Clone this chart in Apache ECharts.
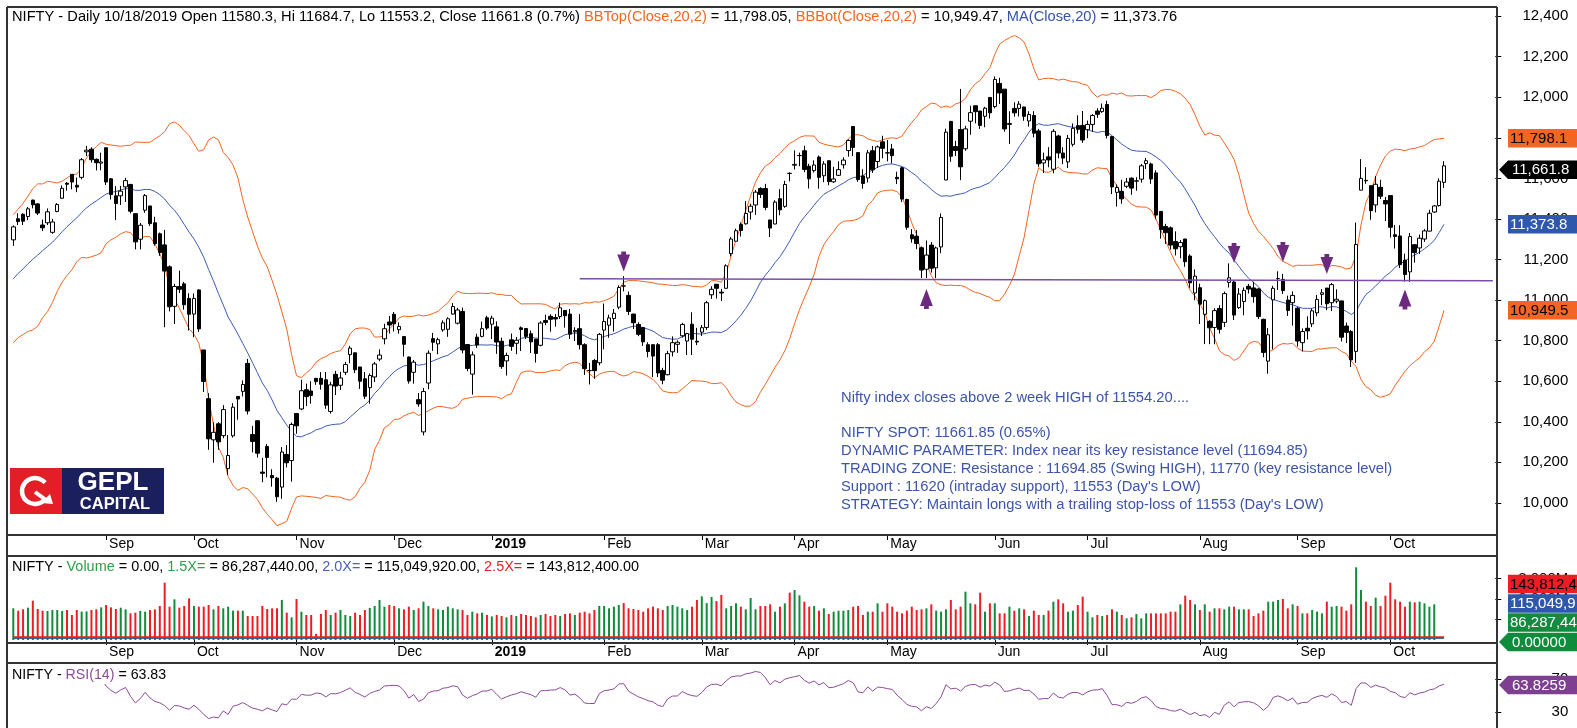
<!DOCTYPE html>
<html>
<head>
<meta charset="utf-8">
<script src="https://cdn.jsdelivr.net/npm/echarts@6/dist/echarts.min.js"></script>
<style>
html, body { margin: 0; padding: 0; background: #fff; }
#chart { width: 1577px; height: 728px; }
</style>
</head>
<body>
<div id="chart"></div>
<script>
// NSE holidays in the window, used to lay out the trading days
var holidays = ['2018-08-15','2018-08-22','2018-09-13','2018-09-20','2018-10-02','2018-10-18','2018-11-08','2018-11-23',
  '2018-12-25','2019-03-04','2019-03-21','2019-04-17','2019-04-19','2019-04-29','2019-05-01','2019-06-05',
  '2019-08-12','2019-08-15','2019-09-02','2019-09-10','2019-10-02','2019-10-08'];
var monthNames = ['Jan','Feb','Mar','Apr','May','Jun','Jul','Aug','Sep','Oct','Nov','Dec'];

// closes before the first bar, only used to start MA / bands / RSI
var warmupClose = [10657,10699,10769,10749,10772,10852,10947,10948,11023,11018,10936,11008,10980,10957,11010,
  11084,11134,11132,11167,11278,11319,11356,11346,11244];

// daily bars [open, high, low, close]
var aug18 = [[11297,11368,11267,11361],[11401,11428,11370,11387],[11423,11428,11370,11389],[11412,11459,11394,11450],
  [11493,11495,11452,11470],[11474,11478,11419,11429],[11370,11397,11340,11356],[11381,11452,11370,11435],
  [11334,11400,11327,11385],[11437,11478,11433,11471],[11502,11565,11499,11551],[11576,11582,11539,11571],
  [11620,11620,11546,11582],[11566,11604,11532,11557],[11605,11700,11595,11692],[11731,11760,11710,11739],
  [11744,11753,11678,11692],[11694,11698,11639,11677],[11675,11727,11640,11681]];
var sep18 = [[11751,11751,11567,11582],[11598,11602,11496,11520],[11514,11562,11394,11476],[11514,11563,11469,11537],
  [11558,11603,11484,11589],[11570,11573,11427,11438],[11426,11427,11250,11287],[11300,11380,11250,11369],
  [11443,11523,11430,11515],[11464,11464,11366,11377],[11381,11411,11268,11278],[11327,11333,11218,11234],
  [11272,11346,10866,11143],[11164,11171,10944,10967],[10969,11080,10882,11067],[11067,11145,11035,11053],
  [11080,11090,10953,10977],[11008,11034,10850,10930]];
var oct18 = [[10931,11033,10817,11008],[11050,11053,10843,10858],[10754,10755,10547,10599],[10514,10541,10262,10316],
  [10311,10398,10198,10348],[10390,10398,10262,10301],[10332,10482,10319,10460],[10169,10335,10138,10234],
  [10331,10492,10322,10472],[10525,10526,10410,10512],[10550,10604,10525,10584],[10688,10710,10436,10453],
  [10337,10380,10249,10303],[10405,10408,10224,10245],[10152,10222,10102,10146],[10278,10290,10126,10224],
  [10135,10166,10080,10124],[10122,10128,10005,10030],[10078,10275,10020,10251],[10239,10285,10175,10198],
  [10209,10396,10105,10387]];
var nov18 = [[10441,10441,10341,10380],[10463,10607,10457,10553],[10558,10588,10477,10524],[10552,10600,10489,10530],
  [10614,10616,10582,10598],[10614,10645,10558,10585],[10607,10645,10464,10482],[10451,10597,10440,10582],
  [10634,10651,10532,10576],[10580,10646,10557,10616],[10644,10695,10631,10682],[10731,10774,10688,10763],
  [10740,10740,10640,10656],[10670,10671,10562,10600],[10612,10646,10512,10526],[10568,10638,10489,10628],
  [10621,10695,10596,10685],[10709,10757,10699,10729],[10809,10883,10782,10859],[10892,10922,10835,10877]];
var dec18 = [[10930,10941,10845,10883],[10854,10890,10834,10870],[10820,10821,10722,10782],[10719,10722,10588,10601],
  [10644,10705,10588,10694],[10509,10542,10474,10488],[10350,10567,10333,10549],[10591,10752,10560,10738],
  [10810,10838,10749,10792],[10784,10815,10733,10805],[10853,10900,10844,10888],[10856,10915,10819,10908],
  [10931,10985,10928,10968],[10886,10962,10880,10951],[10944,10963,10738,10754],[10781,10782,10649,10663],
  [10635,10747,10534,10730],[10817,10834,10764,10779],[10821,10894,10816,10859],[10913,10923,10853,10862]];
var jan19 = [[10881,10923,10808,10911],[10868,10895,10735,10793],[10797,10815,10661,10672],[10700,10741,10628,10727],
  [10804,10835,10750,10772],[10787,10818,10733,10802],[10863,10870,10749,10855],[10860,10860,10808,10821],
  [10834,10850,10739,10794],[10807,10808,10692,10737],[10777,10896,10772,10887],[10899,10928,10876,10890],
  [10920,10930,10844,10905],[10914,10931,10869,10907],[10919,10987,10907,10962],[10949,10950,10864,10923],
  [10931,10956,10809,10832],[10844,10866,10798,10850],[10859,10931,10757,10780],[10780,10787,10631,10662],
  [10653,10690,10584,10652],[10702,10710,10612,10652],[10691,10838,10678,10831]];
var feb19 = [[10852,10983,10757,10894],[10876,10928,10814,10912],[10909,10956,10845,10935],[10965,11073,10955,11062],
  [11070,11118,11043,11069],[11023,11042,10926,10944],[10931,10932,10857,10888],[10880,10891,10822,10831],
  [10865,10867,10774,10794],[10780,10792,10718,10746],[10780,10782,10620,10724],[10780,10788,10620,10641],
  [10653,10666,10585,10605],[10632,10750,10629,10736],[10745,10821,10722,10790],[10782,10801,10740,10792],
  [10824,10888,10815,10880],[10798,10838,10729,10835],[10881,10940,10729,10807],[10797,10863,10778,10793]];
var mar19 = [[10842,10877,10823,10864],[10865,10996,10853,10987],[11026,11068,11006,11053],[11078,11079,11008,11058],
  [11039,11055,10995,11035],[11058,11176,11057,11169],[11229,11311,11215,11301],[11290,11352,11290,11342],
  [11373,11383,11313,11343],[11376,11488,11372,11427],[11434,11475,11397,11463],[11469,11543,11420,11532],
  [11550,11556,11503,11521],[11550,11573,11443,11457],[11395,11395,11311,11355],[11375,11492,11374,11483],
  [11500,11547,11418,11445],[11462,11588,11455,11570],[11625,11630,11585,11624]];
var apr19 = [[11665,11738,11644,11669],[11712,11727,11660,11713],[11736,11761,11630,11644],[11660,11672,11550,11598],
  [11638,11689,11629,11666],[11705,11713,11549,11605],[11613,11685,11581,11671],[11687,11688,11566,11584],
  [11583,11657,11578,11597],[11615,11684,11612,11643],[11667,11704,11648,11690],[11737,11792,11707,11787],
  [11856,11856,11710,11752],[11727,11728,11583,11594],[11612,11645,11549,11575],[11602,11740,11580,11726],
  [11736,11760,11627,11642],[11683,11762,11651,11755],[11780,11810,11699,11748]];
var may19 = [[11726,11789,11684,11725],[11745,11770,11674,11712],[11605,11633,11572,11598],[11652,11657,11484,11498],
  [11496,11500,11347,11359],[11322,11350,11283,11302],[11315,11345,11251,11279],[11258,11264,11108,11148],
  [11152,11294,11109,11222],[11271,11286,11136,11157],[11159,11264,11108,11257],[11262,11427,11231,11407],
  [11592,11845,11591,11828],[11881,11883,11682,11709],[11757,11785,11710,11738],[11841,12041,11591,11657],
  [11746,11859,11736,11844],[11882,11958,11815,11924],[11958,11959,11871,11929],[11932,11932,11844,11861],
  [11906,11953,11852,11946],[11999,12000,11895,11923]];
var jun19 = [[11954,12103,11945,12088],[12068,12096,11967,12021],[12040,12040,11830,11844],[11866,11931,11770,11871],
  [11945,11975,11904,11923],[11945,11981,11905,11966],[11952,11953,11884,11906],[11883,11931,11855,11915],
  [11910,11931,11802,11823],[11834,11844,11657,11672],[11676,11727,11626,11691],[11706,11754,11655,11691],
  [11645,11843,11625,11832],[11809,11815,11699,11725],[11725,11754,11670,11700],[11681,11814,11651,11797],
  [11768,11871,11757,11847],[11860,11911,11821,11842],[11861,11932,11775,11789]];
var jul19 = [[11840,11885,11798,11866],[11866,11917,11830,11910],[11932,11946,11898,11916],[11929,11969,11923,11946],
  [11964,11982,11797,11811],[11806,11807,11523,11558],[11531,11570,11461,11555],[11536,11593,11475,11499],
  [11561,11602,11552,11582],[11601,11605,11519,11552],[11586,11606,11539,11588],[11596,11671,11579,11662],
  [11673,11701,11646,11687],[11671,11678,11573,11597],[11627,11640,11399,11419],[11437,11438,11303,11347],
  [11363,11376,11277,11332],[11356,11363,11249,11271],[11289,11339,11220,11253],[11263,11296,11206,11284],
  [11301,11302,11164,11189],[11217,11226,11061,11085],[11035,11151,10999,11118]];
var aug19 = [[11061,11081,10882,10980],[10930,11003,10783,10997],[10895,10901,10783,10863],[10865,10960,10782,10948],
  [10959,10975,10835,10856],[10890,11042,10867,11032],[11087,11181,11062,11110],[11089,11097,10902,10926],
  [10963,11059,10956,11030],[10993,11062,10925,11048],[11068,11080,11032,11054],[11060,11090,10987,11017],
  [11055,11058,10907,10919],[10905,10908,10718,10742],[10699,10862,10637,10829],[11001,11070,10757,11058],
  [11106,11142,11050,11106],[11102,11129,11030,11047],[11000,11022,10922,10949],[10987,11043,10874,11023]];
var sep19 = [[10960,10967,10771,10798],[10790,10860,10747,10845],[10861,10920,10806,10848],[10883,10958,10867,10947],
  [10937,11025,10920,11003],[11028,11054,10975,11036],[11059,11060,10950,10982],[10987,11084,10946,11076],
  [10995,11053,10984,11004],[10996,10996,10796,10817],[10872,10889,10788,10841],[10845,10852,10670,10705],
  [10747,11382,10691,11274],[11542,11695,11542,11600],[11590,11655,11573,11588],[11564,11564,11396,11441],
  [11469,11611,11432,11571],[11556,11593,11498,11512],[11491,11508,11390,11474]];
var oct19 = [[11515,11516,11308,11359],[11322,11370,11254,11314],[11316,11369,11158,11175],[11197,11229,11091,11126],
  [11139,11331,11090,11313],[11273,11275,11184,11234],[11257,11323,11228,11305],[11301,11350,11287,11341],
  [11340,11445,11339,11428],[11434,11468,11429,11464],[11466,11600,11461,11586],[11580.3,11684.7,11553.2,11661.8]];

// volume, millions
var volAug18 = [1545,1431,1496,1577,1919,1512,1431,1415,1463,1463,1415,1463,1220,1463,1382,1398,1463,1496,1593];
var volSep18 = [1707,1593,1512,1577,1496,1301,1333,1415,1382,1463,1496,1659,2797,1626,1984,1577,1659,2033];
var volOct18 = [1659,1626,1626,1707,1496,1659,1545,1626,1431,1431,1431,1171,1171,1171,1659,1512,1545,1545,1951,1333,1106];
var volNov18 = [2000,1382,1220,1220,300,1268,1463,1220,1333,1463,1220,1171,1333,1220,1463,1560,1659,1951,1626,1707];
var volDec18 = [1659,1545,1496,1626,1463,1545,1870,1659,1545,1496,1463,1626,1545,1496,1463,1220,1382,1301,1333,1220];
var volJan19 = [1150,1220,1171,1106,1220,1171,1268,1220,1171,1106,1220,1268,1171,1220,1171,1268,1301,1220,1333,1382,1301,1463,1659];
var volFeb19 = [1659,1545,1626,1707,1800,1545,1512,1463,1382,1545,1626,1545,1463,1659,1707,1626,1545,1463,1626,1951];
var volMar19 = [2130,1800,2100,1900,2200,1545,1659,1789,1626,1496,2049,1496,1659,1659,1740,1382,1626,1789,2309];
var volApr19 = [2439,2179,1870,1626,1659,1431,1545,1268,1382,1431,1431,1463,1626,1659,1220,1382,1382,1789,1382];
var volMay19 = [1789,1626,1382,1301,1431,1626,1463,1496,1545,1740,1431,1382,1496,1951,1496,1626,2358,1789,1740,2309,1382,1789];
var volJun19 = [1789,1301,1301,1626,1431,1545,1496,1171,1431,1220,1220,1431,1870,1984,1789,1382,1431,1707,2114];
var volJul19 = [1382,1106,1220,1171,1220,1496,1382,1220,1057,1106,1268,1057,1301,1301,1301,1301,1301,1382,1382,1740,2163,1951,1740];
var volAug19 = [1463,1740,1382,1545,1545,1496,1626,1626,1496,1496,1496,1171,1301,1431,1870,1870,1951,2000,1545,1740];
var volSep19 = [1659,1301,1301,1463,1382,1301,1870,1626,1659,1626,1431,1740,3545,2439,1870,1659,2065,1659,2163];
var volOct19 = [2797,1984,1870,1626,1870,1837,1870,1789,1626,1740,0,0];

// volume multiples (millions), support line, arrows [bar index, price, 'up'/'down']
var volBands = [86.28744, 115.04992, 143.8124];
var supportLine = [[116, 11105], [303, 11095]];
var signals = [[125, 11190, 'down'], [187, 11005, 'up'], [250, 11232, 'down'], [260, 11237, 'down'],
  [269, 11178, 'down'], [285, 11003, 'up']];

var priceTicks = [10000,10200,10400,10600,10800,11000,11200,11400,11600,11800,12000,12200,12400];
var volTicks = [1000, 2000, 3000];
var rsiTicks = [30, 70];

var ohlc = [].concat(aug18, sep18, oct18, nov18, dec18, jan19, feb19, mar19, apr19, may19, jun19, jul19, aug19, sep19, oct19);
var volume = [].concat(volAug18, volSep18, volOct18, volNov18, volDec18, volJan19, volFeb19, volMar19, volApr19,
  volMay19, volJun19, volJul19, volAug19, volSep19, volOct19);

function tradingDays(from, to) {
  var out = [], d = new Date(from + 'T00:00:00Z'), end = new Date(to + 'T00:00:00Z');
  while (d <= end) {
    var s = d.toISOString().slice(0, 10), w = d.getUTCDay();
    if (w != 0 && w != 6 && holidays.indexOf(s) < 0) out.push(s);
    d.setUTCDate(d.getUTCDate() + 1);
  }
  return out;
}
var dates = tradingDays('2018-08-03', '2019-10-18');
var cats = dates.slice();
for (var p = 0; p < 10; p++) cats.push('pad' + p);

function isMonthStart(i) {
  return i > 0 && i < dates.length && dates[i].slice(0, 7) != dates[i - 1].slice(0, 7);
}
function monthLabel(value, i) {
  if (!isMonthStart(i)) return '';
  var m = +value.slice(5, 7);
  return m == 1 ? '{b|' + value.slice(0, 4) + '}' : monthNames[m - 1];
}

// indicators, computed over warmup + visible closes
var closes = warmupClose.concat(ohlc.map(function(d) { return d[3]; }));
var off = warmupClose.length;
var ma = [], bbTop = [], bbBot = [];
for (var i = off; i < closes.length; i++) {
  var w = closes.slice(i - 19, i + 1), m = 0, v = 0;
  w.forEach(function(x) { m += x / 20; });
  w.forEach(function(x) { v += (x - m) * (x - m) / 20; });
  var sd = Math.sqrt(v);
  ma.push(+m.toFixed(2)); bbTop.push(+(m + 2 * sd).toFixed(2)); bbBot.push(+(m - 2 * sd).toFixed(2));
}
var rsiAll = [], ag = 0, al = 0;
for (var j = 1; j < closes.length; j++) {
  var ch = closes[j] - closes[j - 1], g = Math.max(ch, 0), l = Math.max(-ch, 0);
  if (j <= 14) { ag += g / 14; al += l / 14; }
  else { ag = (ag * 13 + g) / 14; al = (al * 13 + l) / 14; }
  if (j >= 14) rsiAll[j] = 100 - 100 / (1 + ag / al);
}
var rsi = rsiAll.slice(off);

var FONT = "'Liberation Sans', Arial, sans-serif";
var GREEN = '#0f8c3b', RED = '#ee1d24', ORANGE = '#f26522', BLUE = '#3453a6', PURPLE = '#7e3f91';
var GL = 10.86, GW = 304 * 4.883;

function dateAxis(gi) {
  return {
    type: 'category', gridIndex: gi, data: cats, boundaryGap: true,
    axisLine: { show: false }, splitLine: { show: false },
    axisTick: { show: true, alignWithLabel: true, interval: isMonthStart, length: 5, lineStyle: { color: '#000', width: 1 } },
    axisLabel: { interval: isMonthStart, formatter: monthLabel, align: 'left', padding: [0, 0, 0, 3], margin: 2,
      fontSize: 14, fontFamily: FONT, color: '#000', rich: { b: { fontWeight: 'bold', fontSize: 14, fontFamily: FONT } } }
  };
}

var option = {
  animation: false,
  backgroundColor: '#fff',
  textStyle: { fontFamily: FONT },
  grid: [
    { left: GL, top: 7, width: GW, height: 528 },
    { left: GL, top: 556, width: GW, height: 87 },
    { left: GL, top: 663, width: GW, height: 65 }
  ],
  xAxis: [dateAxis(0), dateAxis(1), { type: 'category', gridIndex: 2, data: cats, boundaryGap: true, show: false }],
  yAxis: [
    { type: 'value', gridIndex: 0, position: 'right', min: 9841.8, max: 12444.9, axisLine: { show: false }, splitLine: { show: false },
      axisTick: { show: true, length: 6, customValues: priceTicks, lineStyle: { color: '#000' } },
      axisLabel: { customValues: priceTicks, formatter: function(v) { return v.toLocaleString('en-US'); },
        align: 'right', margin: 73, fontSize: 15, color: '#000' } },
    { type: 'value', gridIndex: 1, position: 'right', min: -146.3, max: 4097.6, axisLine: { show: false }, splitLine: { show: false },
      axisTick: { show: true, length: 6, customValues: volTicks, lineStyle: { color: '#000' } },
      axisLabel: { customValues: volTicks, formatter: function(v) { return v.toLocaleString('en-US') + 'M'; },
        align: 'right', margin: 73, fontSize: 15, color: '#000' } },
    { type: 'value', gridIndex: 2, position: 'right', min: 10, max: 90, axisLine: { show: false }, splitLine: { show: false },
      axisTick: { show: true, length: 6, customValues: rsiTicks, lineStyle: { color: '#000' } },
      axisLabel: { customValues: rsiTicks, align: 'right', margin: 73, fontSize: 15, color: '#000' } }
  ],
  series: [
    { type: 'line', xAxisIndex: 0, yAxisIndex: 0, data: bbTop, symbol: 'none', z: 2, lineStyle: { color: ORANGE, width: 1 } },
    { type: 'line', xAxisIndex: 0, yAxisIndex: 0, data: bbBot, symbol: 'none', z: 2, lineStyle: { color: ORANGE, width: 1 } },
    { type: 'line', xAxisIndex: 0, yAxisIndex: 0, data: ma, symbol: 'none', z: 2, lineStyle: { color: '#3d5bb3', width: 1 } },
    {
      type: 'candlestick', xAxisIndex: 0, yAxisIndex: 0, z: 3, barWidth: 4,
      data: ohlc.map(function(d) { return [d[0], d[3], d[2], d[1]]; }),
      itemStyle: { color: '#fff', color0: '#000', borderColor: '#000', borderColor0: '#000', borderWidth: 1 },
      markLine: {
        silent: true, symbol: 'none', label: { show: false },
        lineStyle: { color: '#7b4ea6', width: 1.5, type: 'solid' },
        data: [[{ coord: supportLine[0] }, { coord: supportLine[1] }]]
      },
      markPoint: {
        silent: true, label: { show: false },
        symbol: 'path://M5,0L11,0L11,3L16,3L8,20L0,3L5,3Z', symbolSize: [16, 20], symbolKeepAspect: true,
        itemStyle: { color: '#6c2a7f' },
        data: signals.map(function(s) { return { coord: [s[0], s[1]], symbolRotate: s[2] == 'up' ? 180 : 0 }; })
      }
    },
    {
      type: 'bar', xAxisIndex: 1, yAxisIndex: 1, barWidth: 2,
      data: volume.map(function(v, i) {
        return { value: v, itemStyle: { color: ohlc[i][3] >= ohlc[i][0] ? GREEN : RED } };
      }),
      markLine: {
        silent: true, symbol: 'none', label: { show: false },
        data: volBands.map(function(b, k) {
          return [{ coord: [0, b], lineStyle: { color: [GREEN, '#3453a6', RED][k], width: 1.5, type: 'solid' } },
                  { coord: [dates.length - 1, b] }];
        })
      }
    },
    { type: 'line', xAxisIndex: 2, yAxisIndex: 2, data: rsi, symbol: 'none', lineStyle: { color: '#8e4a9a', width: 1 } }
  ]
};

var chart = echarts.init(document.getElementById('chart'));
chart.setOption(option);

function py(v) { return chart.convertToPixel({ yAxisIndex: 0 }, v); }
function rich(parts, size) {
  var r = {}, t = '';
  parts.forEach(function(p, k) {
    r['s' + k] = { fill: p[1], fontSize: size, fontFamily: FONT };
    t += '{s' + k + '|' + p[0] + '}';
  });
  return { text: t, rich: r };
}
function line(x1, y1, x2, y2) {
  return { type: 'line', z: 100, shape: { x1: x1, y1: y1, x2: x2, y2: y2 }, style: { stroke: '#333', lineWidth: 2 } };
}
function tag(y, text, bg, fg, arrow) {
  var h = 18.5, t = y - h / 2, b = y + h / 2;
  var pts = arrow ? [[1499, y], [1508, t], [1580, t], [1580, b], [1508, b]] : [[1508, t], [1580, t], [1580, b], [1508, b]];
  return { type: 'group', z: 110, children: [
    { type: 'polygon', z: 110, shape: { points: pts }, style: { fill: bg } },
    { type: 'text', z: 111, x: arrow ? 1512 : 1510, y: y + 0.5,
      style: { text: text, fill: fg, fontSize: 15, fontFamily: FONT, verticalAlign: 'middle' } }
  ] };
}

var notes = ['Nifty index closes above 2 week HIGH of 11554.20....', '',
  'NIFTY SPOT: 11661.85 (0.65%)',
  'DYNAMIC PARAMETER: Index near its key resistance level (11694.85)',
  'TRADING ZONE: Resistance : 11694.85 (Swing HIGH), 11770 (key resistance level)',
  'Support : 11620 (intraday support), 11553 (Day\'s LOW)',
  'STRATEGY: Maintain longs with a trailing stop-loss of 11553 (Day\'s LOW)'];

var g = [];
// panel frames
g.push(line(7, 7, 1497, 7), line(7, 7, 7, 728), line(1497, 7, 1497, 728));
g.push(line(7, 535, 1497, 535), line(7, 556, 1497, 556), line(7, 643, 1497, 643), line(7, 663, 1497, 663));

// titles
g.push({ type: 'text', z: 100, x: 12, y: 17, style: Object.assign(rich([
  ['NIFTY - Daily 10/18/2019 Open 11580.3, Hi 11684.7, Lo 11553.2, Close 11661.8 (0.7%) ', '#000'],
  ['BBTop(Close,20,2)', ORANGE], [' = 11,798.05, ', '#000'],
  ['BBBot(Close,20,2)', ORANGE], [' = 10,949.47, ', '#000'],
  ['MA(Close,20)', BLUE], [' = 11,373.76', '#000']], 14.65), { verticalAlign: 'middle' }) });
g.push({ type: 'text', z: 100, x: 12, y: 567, style: Object.assign(rich([
  ['NIFTY - ', '#000'], ['Volume', '#2e9e48'], [' = 0.00, ', '#000'], ['1.5X=', '#2e9e48'], [' = 86,287,440.00, ', '#000'],
  ['2.0X=', '#4a62b5'], [' = 115,049,920.00, ', '#000'], ['2.5X=', RED], [' = 143,812,400.00', '#000']], 14.45),
  { verticalAlign: 'middle', backgroundColor: '#fff' }) });
g.push({ type: 'text', z: 100, x: 12, y: 675, style: Object.assign(rich([
  ['NIFTY - ', '#000'], ['RSI(14)', '#8e4a9a'], [' = 63.83', '#000']], 14.2),
  { verticalAlign: 'middle', backgroundColor: '#fff', padding: [2, 2, 2, 0] }) });

// commentary
notes.forEach(function(s, k) {
  if (!s) return;
  g.push({ type: 'text', z: 100, x: 841, y: [398, 0, 432.5, 450.6, 468.7, 486.8, 505][k],
    style: { text: s, fill: '#3d55a8', fontSize: 14.75, fontFamily: FONT, verticalAlign: 'middle' } });
});

// logo
g.push({ type: 'rect', z: 100, shape: { x: 10, y: 468, width: 52, height: 46 }, style: { fill: '#e31e26' } });
g.push({ type: 'rect', z: 100, shape: { x: 62, y: 468, width: 102, height: 46 }, style: { fill: '#1b1f5e' } });
g.push({ type: 'arc', z: 101, shape: { cx: 35, cy: 491, r: 13, startAngle: Math.PI * 0.2, endAngle: Math.PI * 1.78, clockwise: true },
  style: { stroke: '#fff', lineWidth: 4.5, fill: null } });
g.push({ type: 'polyline', z: 101, shape: { points: [[35, 492], [46, 500]] }, style: { stroke: '#fff', lineWidth: 4 } });
g.push({ type: 'polygon', z: 101, shape: { points: [[53, 504], [41, 503], [50, 494]] }, style: { fill: '#fff' } });
g.push({ type: 'text', z: 101, x: 113, y: 483, style: { text: 'GEPL', fill: '#fff', fontSize: 26, fontWeight: 'bold',
  fontFamily: FONT, align: 'center', verticalAlign: 'middle' } });
g.push({ type: 'text', z: 101, x: 115, y: 504, style: { text: 'CAPITAL', fill: '#fff', fontSize: 16.5, fontWeight: 'bold',
  fontFamily: FONT, align: 'center', verticalAlign: 'middle' } });

// value tags on the right
g.push(tag(py(11798.1), '11,798.1', '#f26522', '#000', false));
g.push(tag(py(11661.8) + 4, '11,661.8', '#000', '#fff', true));
g.push(tag(py(11373.8), '11,373.8', '#2f58ad', '#fff', false));
g.push(tag(py(10949.5), '10,949.5', '#f26522', '#000', false));
g.push(tag(584, '143,812,4', '#ee1d24', '#000', false));
g.push(tag(603.5, '115,049,9', '#2f58ad', '#fff', false));
g.push(tag(622.6, '86,287,44', '#138a3e', '#fff', false));
g.push(tag(642, '0.00000', '#0f8c3b', '#fff', true));
g.push(tag(685, '63.8259', '#7e3f91', '#fff', true));

chart.setOption({ graphic: { elements: g } });
</script>
</body>
</html>
